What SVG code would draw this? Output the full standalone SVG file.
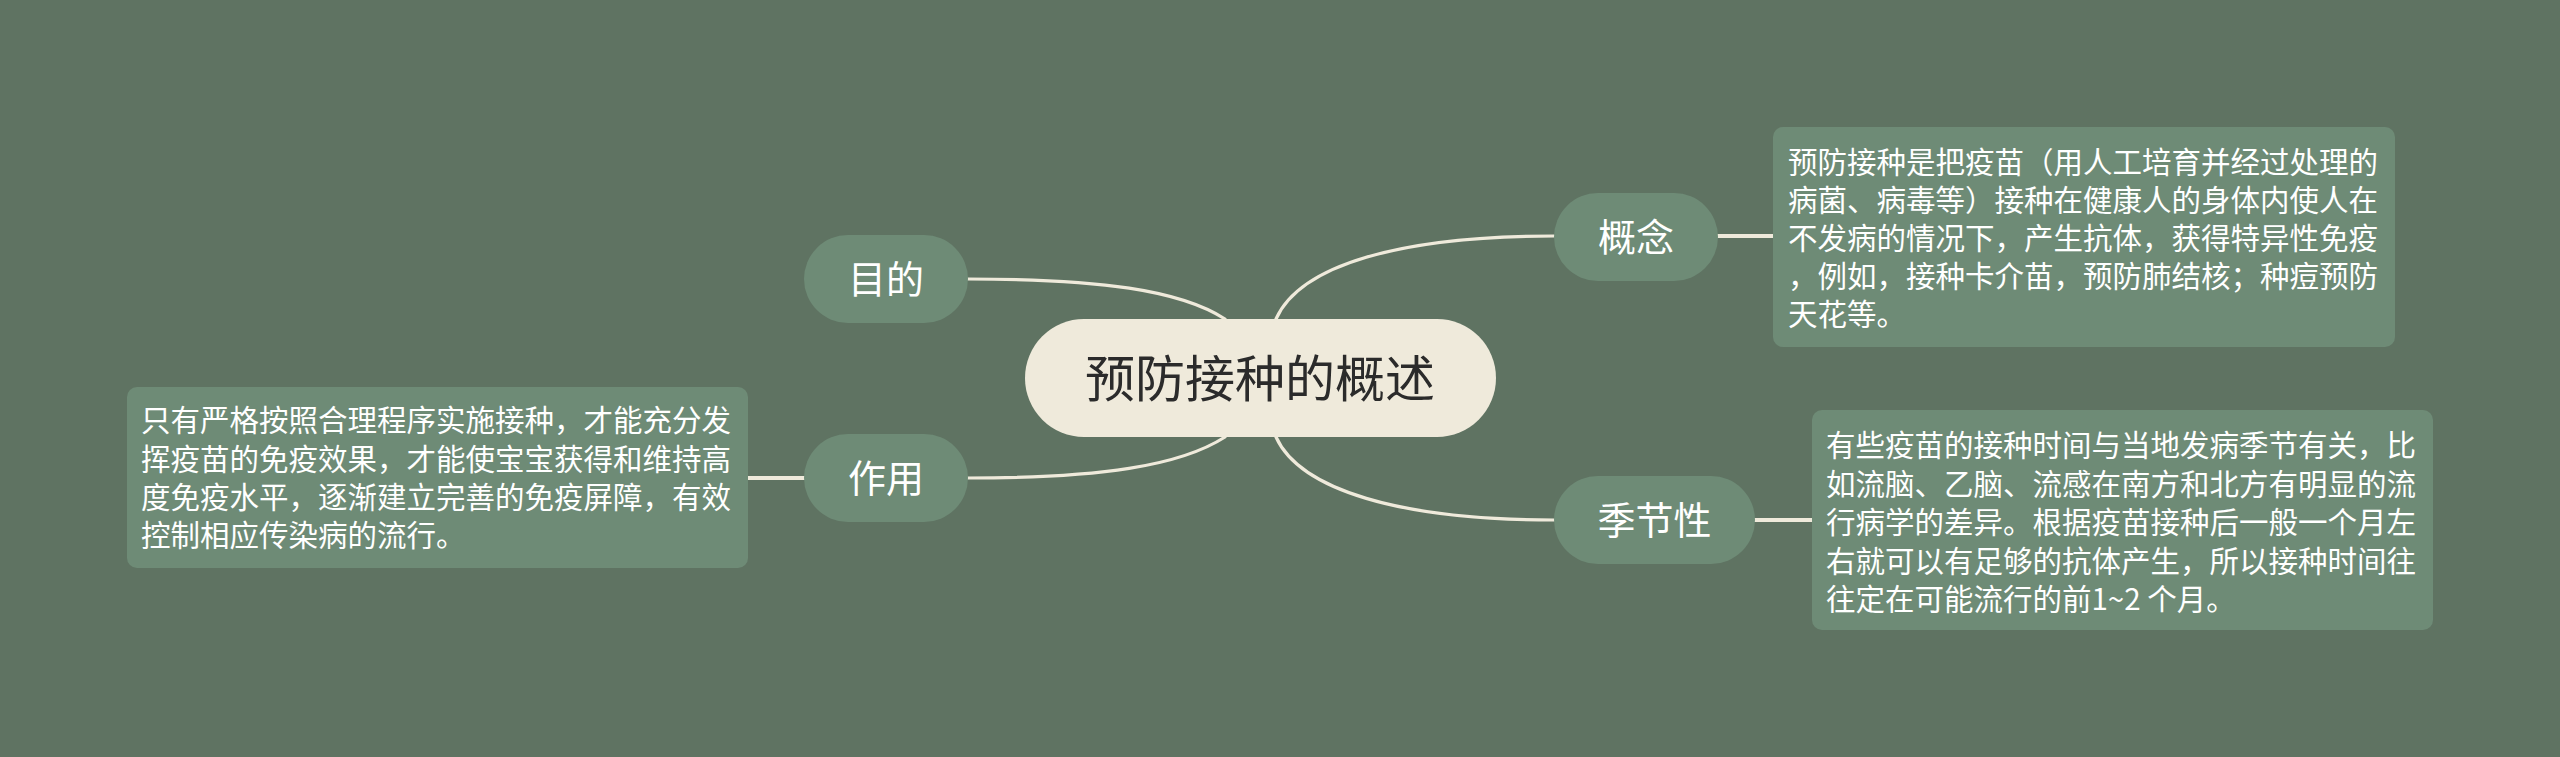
<svg xmlns="http://www.w3.org/2000/svg" width="2560" height="757" viewBox="0 0 2560 757">
<style>
.t{font-family:"Noto Sans CJK SC","Noto Sans",sans-serif;}
.node{fill:#6E8B76;}
.lbl{fill:#FFFFFF;font-size:38px;text-anchor:middle;}
.box{fill:#6E8B76;}
.body{fill:#FFFFFF;font-size:29.5px;}
.conn{fill:none;stroke:#EFEADB;stroke-width:3.2;stroke-linecap:round;}
.stub{fill:none;stroke:#EFEADB;stroke-width:4;}
</style>
<rect x="0" y="0" width="2560" height="757" fill="#5F7362"/>
<g id="connectors">
<path class="conn" d="M968,279 C1100,279 1180,290 1225,319"/>
<path class="conn" d="M968,478 C1100,478 1180,466 1225,437"/>
<path class="conn" d="M1276,319 C1300,265 1400,236 1554,236"/>
<path class="conn" d="M1276,437 C1300,490 1400,520 1554,520"/>
<path class="stub" d="M1717,236 L1774,236"/>
<path class="stub" d="M1754,520 L1813,520"/>
<path class="stub" d="M747,478 L805,478"/>
</g>
<g id="root">
<rect x="1025" y="319" width="471" height="118" rx="59" fill="#EFEADB"/>
<text class="t" x="1260" y="397" font-size="50" text-anchor="middle" fill="#2B2B2B">预防接种的概述</text>
</g>
<g id="mudi">
<rect class="node" x="804" y="235" width="164" height="88" rx="44"/>
<text class="t lbl" x="886" y="293">目的</text>
</g>
<g id="zuoyong">
<rect class="node" x="804" y="434" width="164" height="88" rx="44"/>
<text class="t lbl" x="886" y="492">作用</text>
</g>
<g id="gainian">
<rect class="node" x="1554" y="193" width="164" height="88" rx="44"/>
<text class="t lbl" x="1636" y="251">概念</text>
</g>
<g id="jijiexing">
<rect class="node" x="1554" y="476" width="201" height="88" rx="44"/>
<text class="t lbl" x="1654.5" y="534">季节性</text>
</g>
<g id="gainian-text">
<rect class="box" x="1773" y="127" width="622" height="220" rx="10"/>
<text class="t body" x="1788">
<tspan x="1788" y="173">预防接种是把疫苗（用人工培育并经过处理的</tspan>
<tspan x="1788" y="211">病菌、病毒等）接种在健康人的身体内使人在</tspan>
<tspan x="1788" y="249">不发病的情况下，产生抗体，获得特异性免疫</tspan>
<tspan x="1788" y="287">，例如，接种卡介苗，预防肺结核；种痘预防</tspan>
<tspan x="1788" y="325">天花等。</tspan>
</text>
</g>
<g id="jijiexing-text">
<rect class="box" x="1812" y="410" width="621" height="220" rx="10"/>
<text class="t body" x="1826">
<tspan x="1826" y="456">有些疫苗的接种时间与当地发病季节有关，比</tspan>
<tspan x="1826" y="494.5">如流脑、乙脑、流感在南方和北方有明显的流</tspan>
<tspan x="1826" y="533">行病学的差异。根据疫苗接种后一般一个月左</tspan>
<tspan x="1826" y="571.5">右就可以有足够的抗体产生，所以接种时间往</tspan>
<tspan x="1826" y="610">往定在可能流行的前1~2 个月。</tspan>
</text>
</g>
<g id="zuoyong-text">
<rect class="box" x="127" y="387" width="621" height="181" rx="10"/>
<text class="t body" x="141">
<tspan x="141" y="431">只有严格按照合理程序实施接种，才能充分发</tspan>
<tspan x="141" y="469.5">挥疫苗的免疫效果，才能使宝宝获得和维持高</tspan>
<tspan x="141" y="508">度免疫水平，逐渐建立完善的免疫屏障，有效</tspan>
<tspan x="141" y="546">控制相应传染病的流行。</tspan>
</text>
</g>
</svg>
